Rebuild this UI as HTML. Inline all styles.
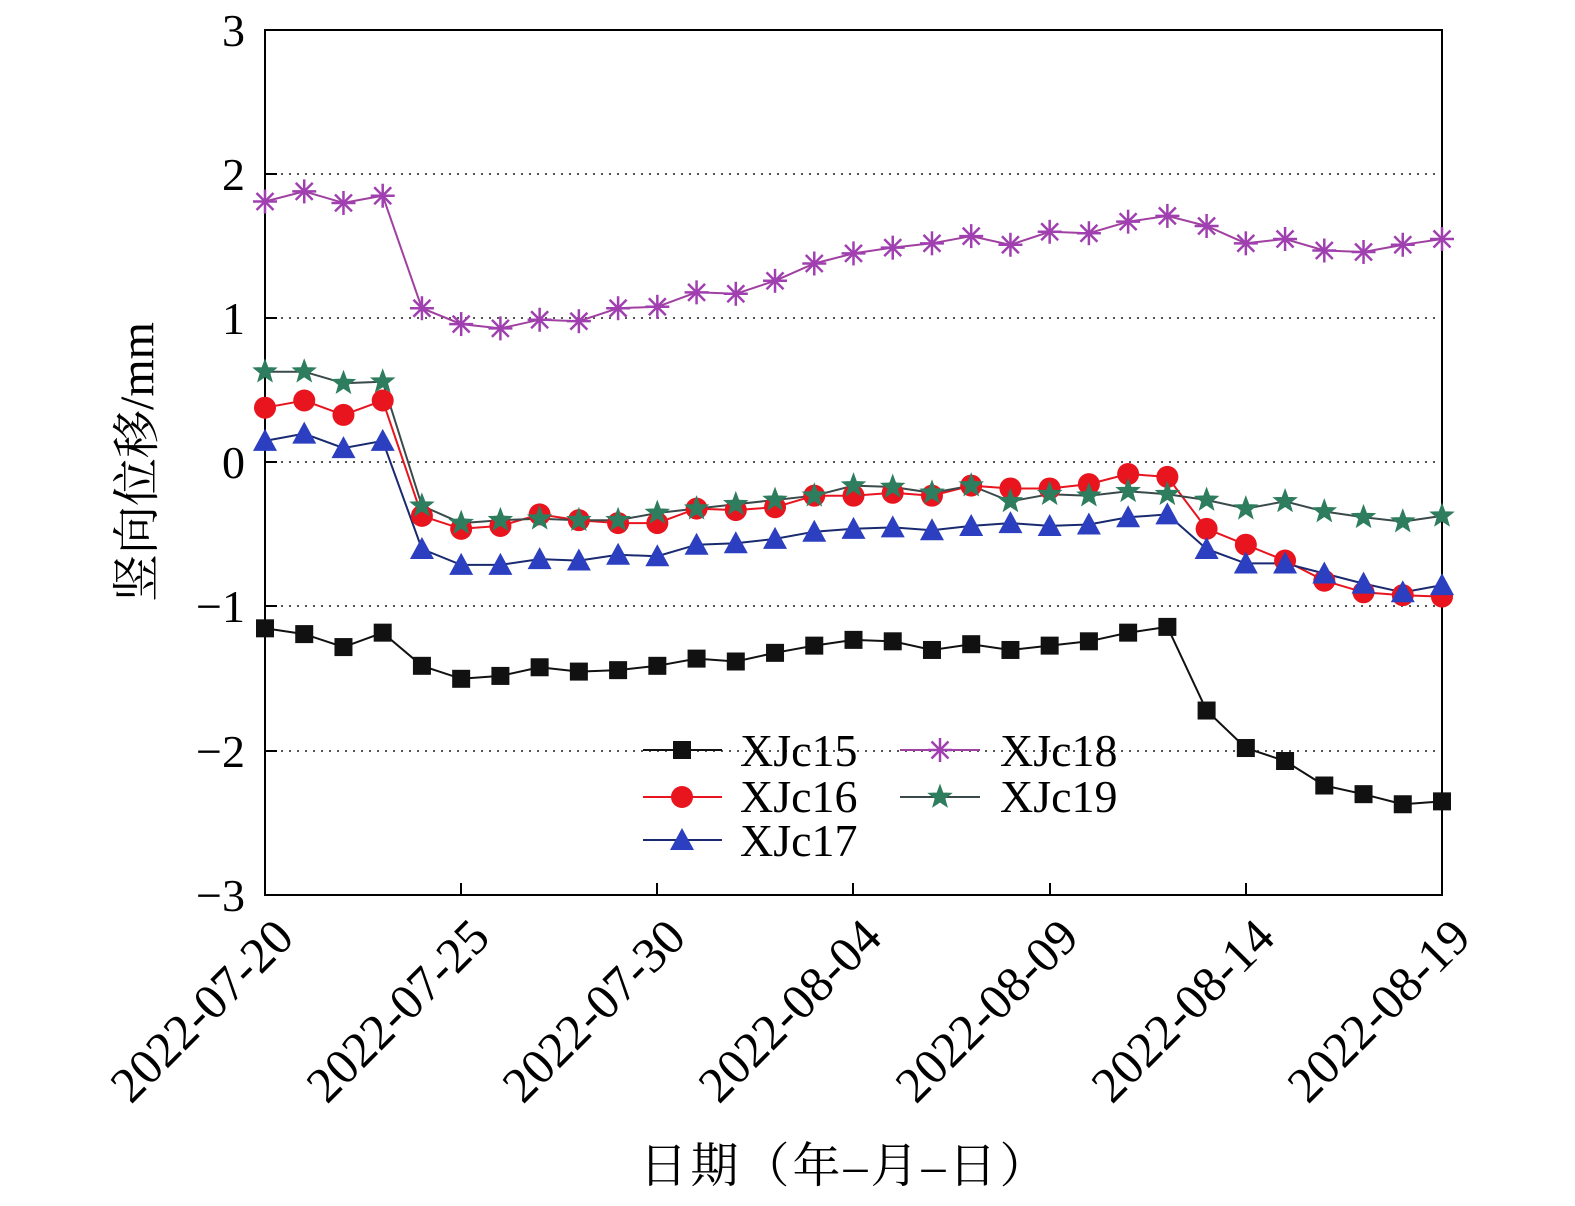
<!DOCTYPE html>
<html><head><meta charset="utf-8"><style>
html,body{margin:0;padding:0;background:#fff;}
svg{display:block;font-family:"Liberation Serif","Noto Serif CJK SC",serif;}
</style></head><body>
<svg id="s" width="1575" height="1206" viewBox="0 0 1575 1206" xmlns="http://www.w3.org/2000/svg">
<g stroke="#555" stroke-width="2" stroke-dasharray="2,6">
<line x1="265" y1="174" x2="1442" y2="174"/>
<line x1="265" y1="318" x2="1442" y2="318"/>
<line x1="265" y1="462" x2="1442" y2="462"/>
<line x1="265" y1="606" x2="1442" y2="606"/>
<line x1="265" y1="751" x2="1442" y2="751"/>
</g>
<rect x="265" y="30" width="1177" height="865" fill="none" stroke="#000" stroke-width="2"/>
<g stroke="#000" stroke-width="2">
<line x1="265" y1="30" x2="277" y2="30"/><line x1="265" y1="174" x2="277" y2="174"/><line x1="265" y1="318" x2="277" y2="318"/><line x1="265" y1="462" x2="277" y2="462"/><line x1="265" y1="606" x2="277" y2="606"/><line x1="265" y1="751" x2="277" y2="751"/>
<line x1="461" y1="895" x2="461" y2="883"/><line x1="657" y1="895" x2="657" y2="883"/><line x1="853" y1="895" x2="853" y2="883"/><line x1="1050" y1="895" x2="1050" y2="883"/><line x1="1246" y1="895" x2="1246" y2="883"/>
</g>
<g font-size="46" text-anchor="end" fill="#000">
<text x="245" y="46">3</text><text x="245" y="190">2</text><text x="245" y="334">1</text><text x="245" y="478">0</text><text x="245" y="622">−1</text><text x="245" y="767">−2</text><text x="245" y="911">−3</text>
</g>
<g font-size="50" text-anchor="end" fill="#000">
<text transform="translate(296,940) rotate(-45)">2022-07-20</text>
<text transform="translate(492,940) rotate(-45)">2022-07-25</text>
<text transform="translate(688,940) rotate(-45)">2022-07-30</text>
<text transform="translate(884,940) rotate(-45)">2022-08-04</text>
<text transform="translate(1081,940) rotate(-45)">2022-08-09</text>
<text transform="translate(1277,940) rotate(-45)">2022-08-14</text>
<text transform="translate(1473,940) rotate(-45)">2022-08-19</text>
</g>
<text transform="translate(153,462) rotate(-90)" font-size="48" text-anchor="middle">竖向位移/mm</text>
<text x="845" y="1182" font-size="48" text-anchor="middle" letter-spacing="3">日期（年–月–日）</text>
<g id="series"></g>
<g font-size="46" fill="#000">
<text x="740" y="766">XJc15</text><text x="740" y="812">XJc16</text><text x="740" y="856">XJc17</text>
<text x="1000" y="766">XJc18</text><text x="1000" y="812">XJc19</text>
</g>
</svg>
<script>
var d={
a:[-1.15,-1.19,-1.28,-1.18,-1.41,-1.50,-1.48,-1.42,-1.45,-1.44,-1.41,-1.36,-1.38,-1.32,-1.27,-1.23,-1.24,-1.30,-1.26,-1.30,-1.27,-1.24,-1.18,-1.14,-1.72,-1.98,-2.07,-2.24,-2.30,-2.37,-2.35],
b:[0.38,0.43,0.33,0.43,-0.37,-0.46,-0.44,-0.36,-0.40,-0.42,-0.42,-0.32,-0.33,-0.31,-0.23,-0.23,-0.21,-0.23,-0.16,-0.18,-0.18,-0.15,-0.08,-0.10,-0.46,-0.57,-0.68,-0.82,-0.90,-0.92,-0.93],
c:[0.15,0.20,0.10,0.15,-0.60,-0.71,-0.71,-0.67,-0.68,-0.64,-0.65,-0.57,-0.56,-0.53,-0.48,-0.46,-0.45,-0.47,-0.44,-0.42,-0.44,-0.43,-0.38,-0.36,-0.60,-0.70,-0.70,-0.77,-0.84,-0.90,-0.85],
e:[1.81,1.88,1.80,1.85,1.07,0.96,0.93,0.99,0.98,1.07,1.08,1.18,1.17,1.26,1.38,1.45,1.49,1.52,1.57,1.51,1.60,1.59,1.67,1.71,1.64,1.52,1.55,1.47,1.46,1.51,1.55],
f:[0.63,0.63,0.55,0.56,-0.30,-0.42,-0.40,-0.39,-0.40,-0.40,-0.35,-0.32,-0.29,-0.26,-0.23,-0.16,-0.17,-0.21,-0.16,-0.27,-0.22,-0.23,-0.20,-0.22,-0.26,-0.32,-0.27,-0.34,-0.38,-0.41,-0.37]};
function X(i){return 265+i*1177/30;}function Y(v){return 462.5-v*144.2;}
function star(x,y,R,r){var p=[];for(var k=0;k<10;k++){var a=-Math.PI/2+k*Math.PI/5,rr=k%2?r:R;p.push((x+rr*Math.cos(a)).toFixed(1)+','+(y+rr*Math.sin(a)).toFixed(1));}return '<polygon points="'+p.join(' ')+'" fill="#2e7d5e" stroke="#2e7d5e"/>';}
function mk(t,x,y){
if(t=='a')return '<rect x="'+(x-9)+'" y="'+(y-9)+'" width="18" height="18" fill="#111"/>';
if(t=='b')return '<circle cx="'+x+'" cy="'+y+'" r="11" fill="#e8141e"/>';
if(t=='c')return '<polygon points="'+x+','+(y-12)+' '+(x-12)+','+(y+10)+' '+(x+12)+','+(y+10)+'" fill="#2b3fc0"/>';
if(t=='e'){var s='<g stroke="#a040b0" stroke-width="2.5">';for(var k=0;k<4;k++){var a=k*Math.PI/4;s+='<line x1="'+(x-12*Math.cos(a))+'" y1="'+(y-12*Math.sin(a))+'" x2="'+(x+12*Math.cos(a))+'" y2="'+(y+12*Math.sin(a))+'"/>';}return s+'</g>';}
return star(x,y,12,5);}
var lc={a:'#111',b:'#e8141e',c:'#1a2a70',e:'#a040a0',f:'#3a4a4a'};
var h='';
['a','b','c','e','f'].forEach(function(t){var p=d[t].map(function(v,i){return X(i).toFixed(1)+','+Y(v).toFixed(1);});
h+='<polyline points="'+p.join(' ')+'" fill="none" stroke="'+lc[t]+'" stroke-width="2"/>';});
['a','b','c','e','f'].forEach(function(t){d[t].forEach(function(v,i){h+=mk(t,X(i),Y(v));});});
var L=[['a',643,722,682,750],['b',643,722,682,797],['c',643,722,682,840],['e',900,980,940,750],['f',900,980,940,797]];
L.forEach(function(l){h+='<line x1="'+l[1]+'" y1="'+l[4]+'" x2="'+l[2]+'" y2="'+l[4]+'" stroke="'+lc[l[0]]+'" stroke-width="2"/>'+mk(l[0],l[3],l[4]);});
document.getElementById('series').innerHTML=h;
</script>
</body></html>
